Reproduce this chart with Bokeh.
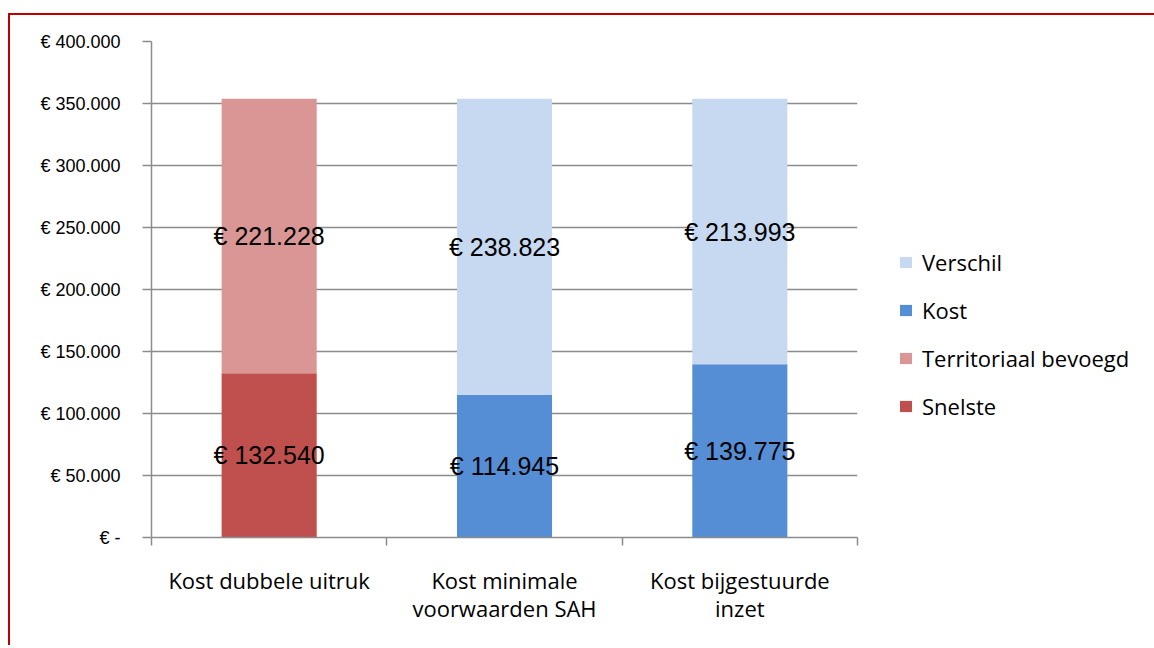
from bokeh.plotting import figure
from bokeh.models import Range1d, FixedTicker, Legend, LegendItem, ColumnDataSource
from bokeh.core.properties import value
from bokeh.embed import file_html
from bokeh.resources import INLINE

categories = ["Kost dubbele uitruk", "Kost minimale\nvoorwaarden SAH", "Kost bijgestuurde\ninzet"]
snelste = [132540, 0, 0]
territoriaal = [221228, 0, 0]
kost = [0, 114945, 139775]
verschil = [0, 238823, 213993]
y_ticks = [0, 50000, 100000, 150000, 200000, 250000, 300000, 350000, 400000]

def eur(v):
    return "€ -" if v == 0 else "€ " + f"{v:,}".replace(",", ".")

xs = [i + 0.5 for i in range(len(categories))]
src = ColumnDataSource(dict(x=xs, snelste=snelste, territoriaal=territoriaal, kost=kost, verschil=verschil))

p = figure(frame_width=706, frame_height=496, output_backend="svg", toolbar_location=None,
           x_range=Range1d(0, 3), y_range=Range1d(0, 400000),
           min_border_left=141, min_border_right=10, min_border_top=26, min_border_bottom=108)
p.margin = (13, 0, 0, 8)
p.styles = {"border-left": "2px solid #C00000", "border-top": "2px solid #C00000"}
p.outline_line_color = None
p.background_fill_color = "white"

names = ["snelste", "territoriaal", "kost", "verschil"]
colors = ["#C0504D", "#D99694", "#558ED5", "#C6D9F1"]
rs = p.vbar_stack(names, x="x", width=0.404, color=colors, line_color=None, source=src)

# data labels at segment centers
lx, ly, lt = [], [], []
for i in range(len(categories)):
    base = 0
    for series in (snelste, territoriaal, kost, verschil):
        v = series[i]
        if v:
            lx.append(xs[i]); ly.append(base + v / 2); lt.append(eur(v))
        base += v
p.text(x=lx, y=ly, text=lt, text_align="center", text_baseline="middle",
       text_font=value("Liberation Sans"), text_font_size="25px", text_color="black")

grid_col = "#8C8C8C"
# y axis
p.yaxis.ticker = FixedTicker(ticks=y_ticks, minor_ticks=[])
p.yaxis.major_label_overrides = {t: eur(t) for t in y_ticks}
p.yaxis.major_label_text_font = "Liberation Sans"
p.yaxis.major_label_text_font_size = "18px"
p.yaxis.major_label_text_color = "black"
p.yaxis.major_tick_out = 9
p.yaxis.major_tick_in = 0
p.yaxis.major_tick_line_color = grid_col
p.yaxis.major_tick_line_width = 1.5
p.yaxis.axis_line_color = grid_col
p.yaxis.axis_line_width = 1.5
p.yaxis.major_label_standoff = 22
p.yaxis.minor_tick_line_color = None

# x axis
p.xaxis.ticker = FixedTicker(ticks=xs, minor_ticks=[0, 1, 2, 3])
p.xaxis.major_label_overrides = {x: c for x, c in zip(xs, categories)}
p.xaxis.major_label_text_font = "Open Sans"
p.xaxis.major_label_text_font_size = "22px"
p.xaxis.major_label_text_color = "black"
p.xaxis.major_label_text_line_height = 0.95
p.xaxis.major_tick_line_color = None
p.xaxis.major_tick_out = 0
p.xaxis.major_tick_in = 0
p.xaxis.minor_tick_out = 8
p.xaxis.minor_tick_in = 0
p.xaxis.minor_tick_line_color = grid_col
p.xaxis.minor_tick_line_width = 1.5
p.xaxis.axis_line_color = grid_col
p.xaxis.axis_line_width = 1.5
p.xaxis.major_label_standoff = 19

p.xgrid.grid_line_color = None
p.ygrid.ticker = FixedTicker(ticks=y_ticks)
p.ygrid.grid_line_color = grid_col
p.ygrid.grid_line_width = 1.5

legend = Legend(items=[
    LegendItem(label="Verschil", renderers=[rs[3]]),
    LegendItem(label="Kost", renderers=[rs[2]]),
    LegendItem(label="Territoriaal bevoegd", renderers=[rs[1]]),
    LegendItem(label="Snelste", renderers=[rs[0]]),
], location=(41, 116))
legend.padding = 0
legend.margin = 0
legend.border_line_color = None
legend.background_fill_alpha = 0
legend.glyph_width = 15
legend.glyph_height = 14
legend.label_height = 30
legend.spacing = 18
legend.label_standoff = 9
legend.label_text_font = "Open Sans"
legend.label_text_font_size = "22px"
legend.label_text_color = "black"
p.add_layout(legend, "right")

open("out.html", "w").write(file_html(p, INLINE))
